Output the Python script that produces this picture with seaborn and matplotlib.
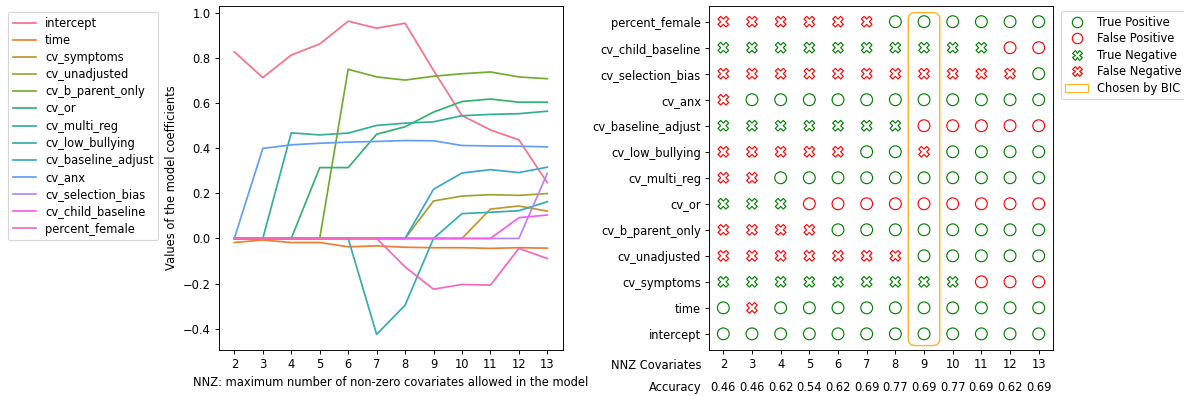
import numpy as np
import pandas as pd
import matplotlib
matplotlib.use("Agg")
import matplotlib.pyplot as plt
import seaborn as sns
from matplotlib.patches import FancyBboxPatch, Patch
from matplotlib.lines import Line2D
import matplotlib.transforms as mtransforms

# ---------------- data ----------------
nnz = [2, 3, 4, 5, 6, 7, 8, 9, 10, 11, 12, 13]
covariates = ["intercept", "time", "cv_symptoms", "cv_unadjusted", "cv_b_parent_only",
              "cv_or", "cv_multi_reg", "cv_low_bullying", "cv_baseline_adjust", "cv_anx",
              "cv_selection_bias", "cv_child_baseline", "percent_female"]

intercept = [0.827, 0.713, 0.813, 0.862, 0.963, 0.932, 0.954, 0.745, 0.545, 0.481, 0.437, 0.247]
time_ = [-0.018, -0.007, -0.018, -0.018, -0.037, -0.033, -0.039, -0.041, -0.041, -0.044, -0.041, -0.043]
cv_symptoms = [0, 0, 0, 0, 0, 0, 0, 0, 0, 0.130, 0.144, 0.121]
cv_unadjusted = [0, 0, 0, 0, 0, 0, 0, 0.166, 0.188, 0.194, 0.191, 0.199]
cv_b_parent_only = [0, 0, 0, 0, 0.750, 0.716, 0.702, 0.719, 0.730, 0.738, 0.716, 0.708]
cv_or = [0, 0, 0, 0.314, 0.314, 0.462, 0.495, 0.560, 0.607, 0.618, 0.604, 0.604]
cv_multi_reg = [0, 0, 0.468, 0.459, 0.467, 0.501, 0.511, 0.517, 0.544, 0.550, 0.553, 0.564]
cv_low_bullying = [0, 0, 0, 0, 0, -0.425, -0.296, 0, 0.110, 0.116, 0.123, 0.163]
cv_baseline_adjust = [0, 0, 0, 0, 0, 0, 0, 0.218, 0.290, 0.305, 0.292, 0.316]
cv_anx = [0, 0.399, 0.415, 0.422, 0.427, 0.430, 0.434, 0.433, 0.412, 0.410, 0.409, 0.406]
cv_selection_bias = [0, 0, 0, 0, 0, 0, 0, 0, 0, 0, 0, 0.289]
cv_child_baseline = [0, 0, 0, 0, 0, 0, 0, 0, 0, 0, 0.092, 0.104]
percent_female = [0, 0, 0, 0, 0, 0, -0.126, -0.225, -0.204, -0.207, -0.044, -0.089]

coef_series = [intercept, time_, cv_symptoms, cv_unadjusted, cv_b_parent_only, cv_or,
               cv_multi_reg, cv_low_bullying, cv_baseline_adjust, cv_anx,
               cv_selection_bias, cv_child_baseline, percent_female]

# outcomes per covariate (columns = nnz 2..13)
out_intercept = ["TP"] * 12
out_time = ["TP", "FN"] + ["TP"] * 10
out_cv_symptoms = ["TN"] * 9 + ["FP"] * 3
out_cv_unadjusted = ["FN"] * 7 + ["TP"] * 5
out_cv_b_parent_only = ["FN"] * 4 + ["TP"] * 8
out_cv_or = ["TN"] * 3 + ["FP"] * 9
out_cv_multi_reg = ["FN"] * 2 + ["TP"] * 10
out_cv_low_bullying = ["FN"] * 5 + ["TP", "TP", "FN"] + ["TP"] * 4
out_cv_baseline_adjust = ["TN"] * 7 + ["FP"] * 5
out_cv_anx = ["FN"] + ["TP"] * 11
out_cv_selection_bias = ["FN"] * 11 + ["TP"]
out_cv_child_baseline = ["TN"] * 10 + ["FP"] * 2
out_percent_female = ["FN"] * 6 + ["TP"] * 6

outcomes = [out_intercept, out_time, out_cv_symptoms, out_cv_unadjusted, out_cv_b_parent_only,
            out_cv_or, out_cv_multi_reg, out_cv_low_bullying, out_cv_baseline_adjust,
            out_cv_anx, out_cv_selection_bias, out_cv_child_baseline, out_percent_female]

accuracy = ["0.46", "0.46", "0.62", "0.54", "0.62", "0.69", "0.77", "0.69", "0.77", "0.69", "0.62", "0.69"]
bic_choice = 9

outcome_labels = {"TP": "True Positive", "FP": "False Positive",
                  "TN": "True Negative", "FN": "False Negative"}
outcome_style = {"TP": ("green", "o"), "FP": ("red", "o"),
                 "TN": ("green", "X"), "FN": ("red", "X")}

# ---------------- long-form tables ----------------
coef_df = pd.DataFrame([
    {"nnz": k, "value": v, "covariate": c}
    for c, vals in zip(covariates, coef_series) for k, v in zip(nnz, vals)
])
out_df = pd.DataFrame([
    {"nnz": k, "row": i, "outcome": o}
    for i, (c, outs) in enumerate(zip(covariates, outcomes)) for k, o in zip(nnz, outs)
])

# ---------------- figure ----------------
DPI = 83
fig = plt.figure(figsize=(1184 / DPI, 396 / DPI), dpi=DPI)
ax1 = fig.add_axes([0.1847, 0.1162, 0.4755 - 0.1847, 0.986 - 0.1162])
ax2 = fig.add_axes([0.5988, 0.1162, 0.8894 - 0.5988, 0.986 - 0.1162])

palette = sns.color_palette("husl", len(covariates))
sns.lineplot(data=coef_df, x="nnz", y="value", hue="covariate", hue_order=covariates,
             palette=palette, ax=ax1, legend=False, linewidth=1.5)
ax1.set_xticks(nnz)
ax1.set_xlabel("NNZ: maximum number of non-zero covariates allowed in the model")
ax1.set_ylabel("Values of the model coefficients")

handles = [Line2D([0], [0], color=palette[i], lw=1.5) for i in range(len(covariates))]
fig.legend(handles, covariates, loc="upper left", bbox_to_anchor=(0.002, 0.984),
           labelspacing=0.36)

# right panel
for code in ["TP", "FP", "TN", "FN"]:
    sub = out_df[out_df["outcome"] == code]
    col, mk = outcome_style[code]
    sns.scatterplot(data=sub, x="nnz", y="row", ax=ax2, marker=mk,
                    s=105 if mk == "o" else 85, facecolors="none",
                    edgecolor=col, color=col, linewidth=1.0)

ax2.set_xlim(1.5, 13.5)
ax2.set_ylim(-0.62, len(covariates) - 1 + 0.62)
ax2.set_yticks(range(len(covariates)))
ax2.set_yticklabels(covariates)
ax2.set_xticks(nnz)
ax2.set_xticklabels([str(k) for k in nnz])
ax2.set_xlabel("")
ax2.set_ylabel("")

rect = FancyBboxPatch((bic_choice - 0.45, -0.35), 0.9, len(covariates) - 1 + 0.6,
                      boxstyle="round,pad=0.1,rounding_size=0.25",
                      facecolor="none", edgecolor="orange", linewidth=1.2, alpha=0.85)
ax2.add_patch(rect)

trans = mtransforms.blended_transform_factory(ax2.transData, ax2.transAxes)
for k, a in zip(nnz, accuracy):
    ax2.text(k, -0.11, a, transform=trans, ha="center", va="center")
ax2.text(-0.023, -0.044, "NNZ Covariates", transform=ax2.transAxes, ha="right", va="center")
ax2.text(-0.023, -0.11, "Accuracy", transform=ax2.transAxes, ha="right", va="center")

leg_handles = [
    Line2D([0], [0], linestyle="none", marker="o", markersize=9, markerfacecolor="none",
           markeredgecolor="green", label="True Positive"),
    Line2D([0], [0], linestyle="none", marker="o", markersize=9, markerfacecolor="none",
           markeredgecolor="red", label="False Positive"),
    Line2D([0], [0], linestyle="none", marker="X", markersize=8, markerfacecolor="none",
           markeredgecolor="green", label="True Negative"),
    Line2D([0], [0], linestyle="none", marker="X", markersize=8, markerfacecolor="none",
           markeredgecolor="red", label="False Negative"),
    Patch(facecolor="none", edgecolor="orange", label="Chosen by BIC", alpha=0.85),
]
ax2.legend(handles=leg_handles, loc="upper left", bbox_to_anchor=(1.005, 1.0),
           labelspacing=0.3)

fig.savefig("out.png", dpi=DPI)
